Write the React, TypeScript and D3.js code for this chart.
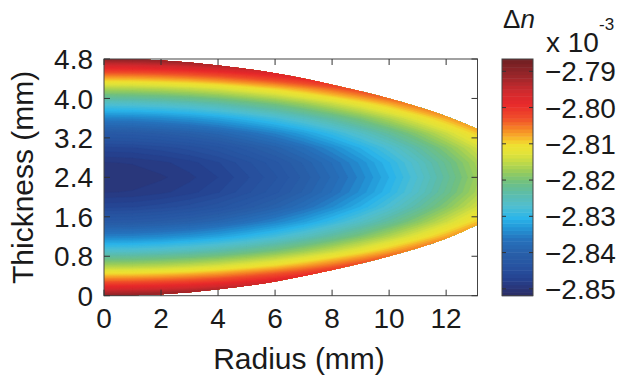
import React from 'react';
import * as d3 from 'd3';

// ---------- data (Δn in units of 1e-3) ----------
const radiusGrid = [0, 1, 2, 3, 4, 5, 6, 7, 8, 9, 10, 11, 12, 13, 14];
const thicknessGrid = [0, 0.3, 0.6, 0.9, 1.2, 1.5, 1.8, 2.1, 2.4, 2.7, 3.0, 3.3, 3.6, 3.9, 4.2, 4.5, 4.8];
const deltaN: number[][] = [
  [-2.7901, -2.7899, -2.7893, -2.7884, -2.7871, -2.7853, -2.7833, -2.7808, -2.7779, -2.7747, -2.7711, -2.7671, -2.7627, -2.7580, -2.7529],
  [-2.8041, -2.8039, -2.8033, -2.8024, -2.8011, -2.7993, -2.7973, -2.7948, -2.7919, -2.7887, -2.7851, -2.7811, -2.7767, -2.7720, -2.7669],
  [-2.8163, -2.8161, -2.8155, -2.8146, -2.8133, -2.8115, -2.8095, -2.8070, -2.8041, -2.8009, -2.7973, -2.7933, -2.7889, -2.7842, -2.7791],
  [-2.8266, -2.8264, -2.8258, -2.8249, -2.8236, -2.8218, -2.8198, -2.8173, -2.8144, -2.8112, -2.8076, -2.8036, -2.7992, -2.7945, -2.7894],
  [-2.8350, -2.8348, -2.8342, -2.8333, -2.8320, -2.8302, -2.8282, -2.8257, -2.8228, -2.8196, -2.8160, -2.8120, -2.8076, -2.8029, -2.7978],
  [-2.8416, -2.8414, -2.8408, -2.8399, -2.8386, -2.8368, -2.8348, -2.8323, -2.8294, -2.8262, -2.8226, -2.8186, -2.8142, -2.8095, -2.8044],
  [-2.8463, -2.8461, -2.8455, -2.8446, -2.8433, -2.8415, -2.8395, -2.8370, -2.8341, -2.8309, -2.8273, -2.8233, -2.8189, -2.8142, -2.8091],
  [-2.8491, -2.8489, -2.8483, -2.8474, -2.8461, -2.8443, -2.8423, -2.8398, -2.8369, -2.8337, -2.8301, -2.8261, -2.8217, -2.8170, -2.8119],
  [-2.8500, -2.8498, -2.8492, -2.8483, -2.8470, -2.8452, -2.8432, -2.8407, -2.8378, -2.8346, -2.8310, -2.8270, -2.8226, -2.8179, -2.8128],
  [-2.8491, -2.8489, -2.8483, -2.8474, -2.8461, -2.8443, -2.8423, -2.8398, -2.8369, -2.8337, -2.8301, -2.8261, -2.8217, -2.8170, -2.8119],
  [-2.8463, -2.8461, -2.8455, -2.8446, -2.8433, -2.8415, -2.8395, -2.8370, -2.8341, -2.8309, -2.8273, -2.8233, -2.8189, -2.8142, -2.8091],
  [-2.8416, -2.8414, -2.8408, -2.8399, -2.8386, -2.8368, -2.8348, -2.8323, -2.8294, -2.8262, -2.8226, -2.8186, -2.8142, -2.8095, -2.8044],
  [-2.8350, -2.8348, -2.8342, -2.8333, -2.8320, -2.8302, -2.8282, -2.8257, -2.8228, -2.8196, -2.8160, -2.8120, -2.8076, -2.8029, -2.7978],
  [-2.8266, -2.8264, -2.8258, -2.8249, -2.8236, -2.8218, -2.8198, -2.8173, -2.8144, -2.8112, -2.8076, -2.8036, -2.7992, -2.7945, -2.7894],
  [-2.8163, -2.8161, -2.8155, -2.8146, -2.8133, -2.8115, -2.8095, -2.8070, -2.8041, -2.8009, -2.7973, -2.7933, -2.7889, -2.7842, -2.7791],
  [-2.8041, -2.8039, -2.8033, -2.8024, -2.8011, -2.7993, -2.7973, -2.7948, -2.7919, -2.7887, -2.7851, -2.7811, -2.7767, -2.7720, -2.7669],
  [-2.7901, -2.7899, -2.7893, -2.7884, -2.7871, -2.7853, -2.7833, -2.7808, -2.7779, -2.7747, -2.7711, -2.7671, -2.7627, -2.7580, -2.7529],
];

// lens outline (mm)
const lensRadius = [0, 2, 4, 6, 8, 10, 12, 13.1];
const lensTop = [4.8, 4.77, 4.67, 4.51, 4.28, 4.0, 3.64, 3.38];
const lensBottom = [0.0, 0.03, 0.13, 0.29, 0.52, 0.8, 1.16, 1.44];

// axes
const xDomain = [0, 13.1];
const yDomain = [0, 4.8];
const xTicks = [0, 2, 4, 6, 8, 10, 12];
const xTickLabels = ['0', '2', '4', '6', '8', '10', '12'];
const yTicks = [0, 0.8, 1.6, 2.4, 3.2, 4.0, 4.8];
const yTickLabels = ['0', '0.8', '1.6', '2.4', '3.2', '4.0', '4.8'];

// colour bar
const cbDomain = [-2.8519, -2.7866];
const cbTicks = [-2.79, -2.8, -2.81, -2.82, -2.83, -2.84, -2.85];
const cbTickLabels = ['\u22122.79', '\u22122.80', '\u22122.81', '\u22122.82', '\u22122.83', '\u22122.84', '\u22122.85'];
const colorStopValues = [-2.8519, -2.8499, -2.8473, -2.8441, -2.8401, -2.8362, -2.833, -2.8304, -2.8271, -2.8238, -2.8206, -2.8179, -2.8153, -2.8127, -2.8101, -2.8081, -2.8055, -2.8029, -2.799, -2.7957, -2.7918, -2.7866];
const colorStopColors = ['#2b2d64', '#2a3577', '#25418f', '#2752a0', '#285fa9', '#2673bd', '#2398d8', '#2bb5ea', '#50bfd0', '#5cbcab', '#6fc082', '#93cb5e', '#bcd84a', '#e1e33a', '#f0e030', '#f8b22a', '#f57f26', '#f04e2a', '#e8292b', '#d22a2e', '#a0272b', '#6e1f22'];

const W = 622;
const H = 377;
const plot = { left: 104, right: 477.5, top: 59, bottom: 295.7 };
const cb = { left: 502, right: 533, top: 59, bottom: 295.7 };
const FONT = 'Liberation Sans, Arial, Helvetica, sans-serif';
const TICK_FS = 28;
const TITLE_FS = 30;
const INK = '#1a1a1a';

export default function App() {
  const x = d3.scaleLinear().domain(xDomain).range([plot.left, plot.right]);
  const y = d3.scaleLinear().domain(yDomain).range([plot.bottom, plot.top]);
  const color = d3.scaleLinear<string>().domain(colorStopValues).range(colorStopColors).interpolate(d3.interpolateRgb).clamp(true);
  const cbY = d3.scaleLinear().domain(cbDomain).range([cb.bottom, cb.top]);

  const nr = radiusGrid.length;
  const nz = thicknessGrid.length;
  const flat: number[] = [];
  deltaN.forEach((row) => row.forEach((v) => flat.push(v)));
  const step = 0.001;
  const thresholds = d3.range(-2.853, -2.74, step);
  const contours = d3.contours().size([nr, nz]).thresholds(thresholds)(flat);
  const gx = d3.scaleLinear().domain([0.5, nr - 0.5]).range([radiusGrid[0], radiusGrid[nr - 1]]);
  const gz = d3.scaleLinear().domain([0.5, nz - 0.5]).range([thicknessGrid[0], thicknessGrid[nz - 1]]);
  const proj = d3.geoTransform({
    point(px: number, py: number) {
      (this as any).stream.point(x(gx(px)), y(gz(py)));
    },
  });
  const path = d3.geoPath(proj as any);

  const lensPts = lensRadius.map((r, i) => ({ r, t: lensTop[i], b: lensBottom[i] }));
  const lensArea = d3
    .area<{ r: number; t: number; b: number }>()
    .x((d) => x(d.r))
    .y0((d) => y(d.b))
    .y1((d) => y(d.t))
    .curve(d3.curveMonotoneX)(lensPts) as string;

  const cbBands = d3.range(cbDomain[0], cbDomain[1], step);

  const tickLen = 6;
  const cbTickLen = 4;

  return (
    <svg width={W} height={H} style={{ position: 'absolute', left: 0, top: 0, background: '#fff' }} fontFamily={FONT}>
      <defs>
        <clipPath id="lens">
          <path d={lensArea} />
        </clipPath>
      </defs>
      <rect x={0} y={0} width={W} height={H} fill="#fff" />
      <g clipPath="url(#lens)">
        {contours.map((c, i) => (
          <path key={i} d={path(c as any) || ''} fill={color(c.value + step / 2)} stroke={color(c.value + step / 2)} strokeWidth={0.3} />
        ))}
      </g>
      {/* plot frame */}
      <rect x={plot.left} y={plot.top} width={plot.right - plot.left} height={plot.bottom - plot.top} fill="none" stroke="#444" strokeWidth={1} />
      {xTicks.map((t, i) => (
        <g key={'xt' + i}>
          <line x1={x(t)} x2={x(t)} y1={plot.bottom} y2={plot.bottom - tickLen} stroke="#333" />
          <line x1={x(t)} x2={x(t)} y1={plot.top} y2={plot.top + tickLen} stroke="#333" />
          <text x={x(t)} y={328} textAnchor="middle" fontSize={TICK_FS} fill={INK}>
            {xTickLabels[i]}
          </text>
        </g>
      ))}
      {yTicks.map((t, i) => (
        <g key={'yt' + i}>
          <line x1={plot.left} x2={plot.left + tickLen} y1={y(t)} y2={y(t)} stroke="#333" />
          <line x1={plot.right} x2={plot.right - tickLen} y1={y(t)} y2={y(t)} stroke="#333" />
          <text x={93} y={y(t)} dy="0.36em" textAnchor="end" fontSize={TICK_FS} fill={INK}>
            {yTickLabels[i]}
          </text>
        </g>
      ))}
      <text x={299} y={369} textAnchor="middle" fontSize={TITLE_FS} fill={INK}>
        Radius (mm)
      </text>
      <text transform={`translate(33,${(plot.top + plot.bottom) / 2}) rotate(-90)`} textAnchor="middle" fontSize={TITLE_FS} fill={INK}>
        Thickness (mm)
      </text>

      {/* colour bar */}
      {cbBands.map((v, i) => (
        <rect
          key={'cb' + i}
          x={cb.left}
          width={cb.right - cb.left}
          y={cbY(Math.min(v + step, cbDomain[1]))}
          height={cbY(v) - cbY(Math.min(v + step, cbDomain[1])) + 0.5}
          fill={color(v + step / 2)}
        />
      ))}
      <rect x={cb.left} y={cb.top} width={cb.right - cb.left} height={cb.bottom - cb.top} fill="none" stroke="#444" strokeWidth={1} />
      {cbTicks.map((t, i) => (
        <g key={'cbt' + i}>
          <line x1={cb.left} x2={cb.left + cbTickLen} y1={cbY(t)} y2={cbY(t)} stroke="#333" />
          <line x1={cb.right} x2={cb.right - cbTickLen} y1={cbY(t)} y2={cbY(t)} stroke="#333" />
          <text x={545} y={cbY(t)} dy="0.36em" fontSize={TICK_FS} fill={INK}>
            {cbTickLabels[i]}
          </text>
        </g>
      ))}
      <text x={503} y={28} fontSize={26} fill={INK}>
        Δ<tspan fontStyle="italic">n</tspan>
      </text>
      <text x={546} y={52} fontSize={TICK_FS} fill={INK}>
        x 10
      </text>
      <text x={599} y={30} fontSize={17} fill={INK}>
        -3
      </text>
    </svg>
  );
}
